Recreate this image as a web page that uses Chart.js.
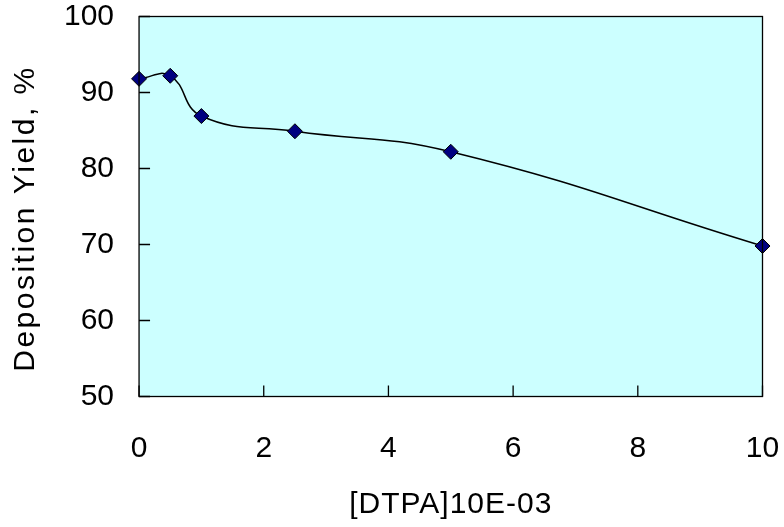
<!DOCTYPE html>
<html>
<head>
<meta charset="utf-8">
<script src="https://cdn.jsdelivr.net/npm/chart.js@4/dist/chart.umd.min.js"></script>
<style>
  html, body { margin: 0; padding: 0; background: #fff; }
  #wrap { width: 784px; height: 527px; }
</style>
</head>
<body>
<div id="wrap"><canvas id="chart"></canvas></div>
<script>
const dtpa = [0, 0.5, 1, 2.5, 5, 10];
const yieldPct = [91.8, 92.2, 86.9, 84.9, 82.2, 69.8];
const xTicks = [0, 2, 4, 6, 8, 10];
const yTicks = [50, 60, 70, 80, 90, 100];

// plot area fill, frame and inward tick marks
const frame = {
    id: 'frame',
    beforeDraw(chart) {
        const a = chart.chartArea, ctx = chart.ctx;
        ctx.save();
        ctx.fillStyle = '#CCFFFF';
        ctx.fillRect(a.left, a.top, a.right - a.left, a.bottom - a.top);
        ctx.restore();
    },
    afterDatasetsDraw(chart) {
        const a = chart.chartArea, ctx = chart.ctx;
        const xs = chart.scales.x, ys = chart.scales.y;
        ctx.save();
        ctx.strokeStyle = '#000';
        ctx.lineWidth = 1.3;
        ctx.beginPath();
        yTicks.forEach(v => {
            const py = ys.getPixelForValue(v);
            ctx.moveTo(a.left, py);
            ctx.lineTo(a.left + 11, py);
        });
        xTicks.forEach(v => {
            const px = xs.getPixelForValue(v);
            ctx.moveTo(px, a.bottom);
            ctx.lineTo(px, a.bottom - 11);
        });
        ctx.stroke();
        ctx.strokeRect(a.left, a.top, a.right - a.left, a.bottom - a.top);
        ctx.restore();
    }
};

// wider letter spacing on axis titles (the original is spaced out)
function spacedTitle(spacing, shiftY) {
    return s => {
        if (s._spaced) return;
        const draw = s.drawTitle;
        s.drawTitle = function() {
            const c = this.ctx;
            c.save();
            c.letterSpacing = spacing + 'px';
            c.translate(0, shiftY);
            draw.call(this);
            c.restore();
        };
        s._spaced = true;
    };
}

const fam = '"Liberation Sans", Arial, sans-serif';
const font = { family: fam, size: 30 };
// invisible tick marks only reserve space between axis and labels
const hiddenGrid = len => ({ display: true, drawOnChartArea: false, drawTicks: true, tickLength: len, color: 'rgba(0,0,0,0)' });

new Chart(document.getElementById('chart'), {
    type: 'line',
    data: {
        datasets: [{
            data: dtpa.map((x, i) => ({ x: x, y: yieldPct[i] })),
            borderColor: '#000',
            borderWidth: 1.5,
            tension: 0.45,
            pointStyle: 'rectRot',
            pointRadius: 7.5,
            pointBackgroundColor: '#000080',
            pointBorderColor: '#000',
            pointBorderWidth: 1,
            clip: false
        }]
    },
    options: {
        responsive: true,
        maintainAspectRatio: false,
        animation: false,
        layout: { padding: { top: 16.5, right: 21.5, left: 8, bottom: 4.5 } },
        plugins: {
            legend: { display: false },
            tooltip: { enabled: false }
        },
        scales: {
            x: {
                type: 'linear',
                min: 0,
                max: 10,
                grid: hiddenGrid(30),
                border: { display: false },
                afterBuildTicks: s => { s.ticks = xTicks.map(v => ({ value: v })); },
                afterFit: spacedTitle(1, 0),
                ticks: { color: '#000', font: font, padding: 4 },
                title: { display: true, text: '[DTPA]10E-03', color: '#000', font: font, padding: { top: 16, bottom: 0 } }
            },
            y: {
                min: 50,
                max: 100,
                grid: hiddenGrid(24),
                border: { display: false },
                afterBuildTicks: s => { s.ticks = yTicks.map(v => ({ value: v })); },
                afterFit: spacedTitle(2.5, 12),
                ticks: { color: '#000', font: { family: fam, size: 30, lineHeight: 1 }, padding: 1 },
                title: { display: true, text: 'Deposition Yield, %', color: '#000', font: font, padding: { top: 0, bottom: 19 } }
            }
        }
    },
    plugins: [frame]
});
</script>
</body>
</html>
